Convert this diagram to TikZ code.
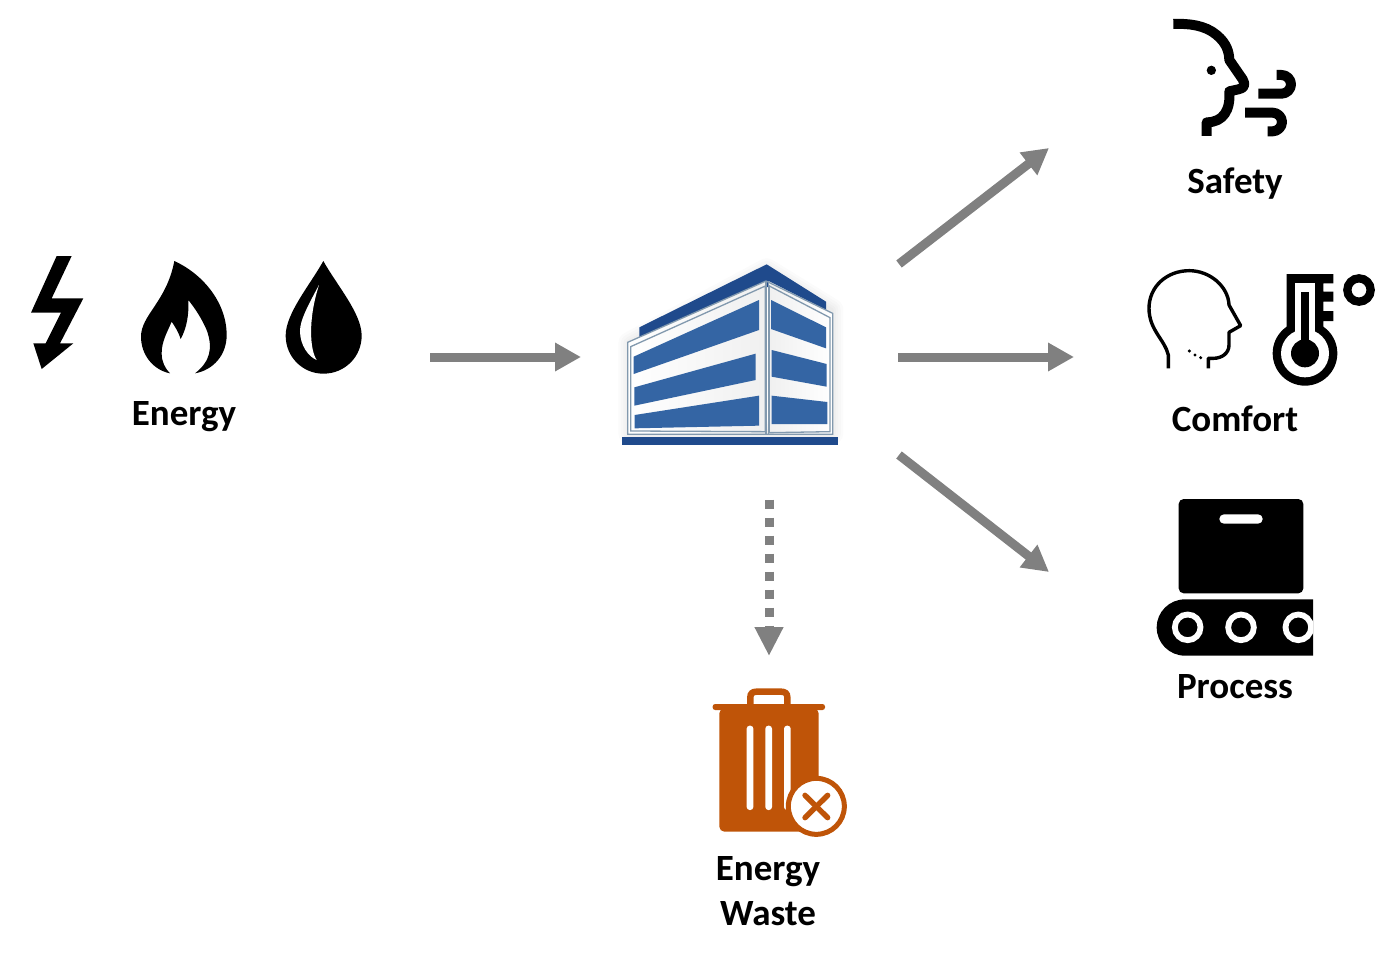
\documentclass[tikz,border=0pt]{standalone}
\usepackage{fontspec}
\setmainfont{Carlito}
\usetikzlibrary{arrows.meta}
\definecolor{arrowgray}{HTML}{808080}
\definecolor{winblue}{HTML}{3465A4}
\definecolor{roofblue}{HTML}{1F4A8C}
\definecolor{framegray}{HTML}{8299AE}
\definecolor{rust}{HTML}{BF5408}
\tikzset{
  flow/.style={draw=arrowgray,line width=9pt,-{Triangle[length=26pt,width=27pt]}},
  leak/.style={draw=arrowgray,line width=9pt,dash pattern=on 9pt off 9pt,-{Triangle[length=29pt,width=27pt]}},
  caption/.style={font=\bfseries\fontsize{37}{37}\selectfont,anchor=base,inner sep=0pt},
  zoomed/.style={x=0.33333pt,y=-0.33333pt},
  window/.style={fill=winblue,draw=none},
  frameline/.style={draw=framegray,line width=1.3pt,fill=none},
  ink/.style={line width=10pt,line cap=butt,line join=round,draw=black,fill=none},
  thin ink/.style={line width=3.4pt,line cap=butt,line join=round,draw=black,fill=none},
}
\begin{document}
\begin{tikzpicture}[x=1pt,y=-1pt]
\useasboundingbox (0,0) rectangle (1394,958);
% ---- connector ends
\coordinate (inS) at (430,357);    \coordinate (inE) at (581,357);
\coordinate (cfS) at (898,357);    \coordinate (cfE) at (1074,357);
\coordinate (sfS) at (899,264);    \coordinate (sfE) at (1049,148);
\coordinate (prS) at (899,455);    \coordinate (prE) at (1049,572);
\coordinate (wsS) at (769,499.5);    \coordinate (wsE) at (769,656);
\draw[flow] (inS) -- (inE);
\draw[flow] (cfS) -- (cfE);
\draw[flow] (sfS) -- (sfE);
\draw[flow] (prS) -- (prE);
\draw[leak] (wsS) -- (wsE);
% ---- energy icons
\begin{scope}[shift={(15,245)},zoomed]
\fill (125,33)--(170,33)--(110,160)--(205,160)--(135,295)--(175,295)--(80,372)--(55,295)--(92,295)--(138,203)--(48,203)--cycle;
\fill (478,48) .. controls (560,85) and (635,170) .. (635,270)
  .. controls (635,330) and (595,375) .. (540,385)
  .. controls (585,350) and (595,310) .. (575,255)
  .. controls (560,220) and (540,190) .. (520,165)
  .. controls (522,210) and (515,250) .. (497,282)
  .. controls (490,260) and (480,245) .. (470,230)
  .. controls (455,265) and (440,290) .. (440,325)
  .. controls (440,350) and (450,370) .. (465,385)
  .. controls (415,375) and (378,330) .. (378,275)
  .. controls (378,210) and (455,170) .. (478,48) -- cycle;
\fill (925,48) .. controls (965,120) and (1040,205) .. (1040,272)
  .. controls (1040,335) and (990,386) .. (925,386)
  .. controls (862,386) and (812,335) .. (812,272)
  .. controls (812,205) and (885,120) .. (925,48) -- cycle;
\fill[white] (912,120) .. controls (880,180) and (855,225) .. (855,258)
  .. controls (855,300) and (880,335) .. (905,345)
  .. controls (885,315) and (878,225) .. (912,120) -- cycle;
\end{scope}
\node[caption] (energy) at (184,425) {Energy};
% ---- building
\begin{scope}[shift={(610,250)},zoomed]
\foreach \w in {70,55,40,25,12}{
  \draw[black,opacity=0.016,line width=\w*0.33333pt,line join=round]
    (60,280)--(470,60)--(665,180)--(665,550)--(60,550)--cycle;
}
\fill[roofblue] (88,232)--(470,43)--(648,155)--(648,200)--(470,110)--(88,262)--cycle;
\shade[left color=white,right color=black!6] (53,277)--(468,93)--(468,555)--(53,553)--cycle;
\shade[left color=black!6,right color=white] (475,93)--(668,190)--(668,553)--(475,555)--cycle;
\draw[frameline] (53,277)--(468,93)--(668,190)--(668,553)--(53,553)--cycle;
\draw[frameline] (62,290)--(466,108)--(466,545)--(62,543)--cycle;
\draw[frameline] (478,108)--(660,203)--(660,545)--(478,548)--cycle;
\draw[frameline] (468,93)--(468,555);
\draw[frameline] (476,93)--(476,555);
\fill[window] (71,320)--(447,150)--(447,240)--(71,372)--cycle;
\fill[window] (73,412)--(437,311)--(437,390)--(73,467)--cycle;
\fill[window] (74,495)--(447,437)--(447,527)--(74,535)--cycle;
\fill[window] (483,150)--(648,232)--(648,295)--(483,237)--cycle;
\fill[window] (485,300)--(650,342)--(650,410)--(485,380)--cycle;
\fill[window] (485,437)--(652,456)--(652,522)--(485,522)--cycle;
\fill[roofblue] (35,562) rectangle (685,584);
\end{scope}
% ---- safety icon
\begin{scope}[shift={(1130,0)},zoomed]
\draw[ink] (130,72) .. controls (175,70) and (225,75) .. (260,105)
  .. controls (290,130) and (297,155) .. (298,180)
  -- (338,238) .. controls (348,255) and (342,265) .. (325,268) -- (298,274)
  .. controls (302,330) and (280,367) .. (230,367) -- (230,408);
\fill (244,211) circle[radius=14];
\draw[ink] (385,281) -- (455,281) .. controls (470,281) and (483,268) .. (483,253)
  .. controls (483,238) and (470,225) .. (455,225) -- (440,225);
\draw[ink] (345,338) -- (428,338) .. controls (443,338) and (456,351) .. (456,366)
  .. controls (456,381) and (443,394) .. (428,394) -- (413,394);
\end{scope}
\node[caption] (safety) at (1235,193.5) {Safety};
% ---- comfort icons
\begin{scope}[shift={(1130,255)},zoomed]
\draw[thin ink] (115,340) -- (115,300) .. controls (105,255) and (57,225) .. (57,160)
  .. controls (57,95) and (110,47) .. (178,47)
  .. controls (240,47) and (295,95) .. (297,150)
  -- (332,212) -- (297,232) -- (297,270)
  .. controls (297,295) and (275,310) .. (250,310) -- (235,310) -- (235,340);
\foreach \p in {(178,288),(195,300),(212,308)} \fill \p circle[radius=5];
\fill (470,57)--(610,57)--(610,85)--(580,85)--(580,110)--(610,110)--(610,140)--(580,140)--(580,168)--(610,168)--(610,198)--(580,198)--(580,240)--(470,240)--cycle;
\fill (525,295) circle[radius=97];
\fill[white] (495,85) rectangle (555,250);
\fill[white] (525,295) circle[radius=72];
\fill (512,112) rectangle (538,280);
\fill (525,295) circle[radius=42];
\draw[black,line width=8.3pt] (687,105) circle[radius=35];
\end{scope}
\node[caption] (comfort) at (1235,431.5) {Comfort};
% ---- process icon
\begin{scope}[shift={(1140,490)},zoomed]
\fill[rounded corners=5pt] (116,27) rectangle (490,310);
\fill[white,rounded corners=4.6pt] (238,73) rectangle (368,101);
\fill (519,328) -- (135,328) .. controls (88,328) and (50,366) .. (50,412)
  .. controls (50,459) and (88,497) .. (135,497) -- (519,497) -- cycle;
\begin{scope}
\clip (40,320) rectangle (519,505);
\foreach \c in {143,303,475}{
  \draw[white,line width=5.8pt] (\c,412) circle[radius=38.5];
}
\end{scope}
\end{scope}
\node[caption] (process) at (1235,698) {Process};
% ---- waste icon
\begin{scope}[shift={(700,680)},zoomed]
\draw[rust,line width=6.5pt] (151,75) -- (151,52) .. controls (151,40) and (158,35) .. (170,35)
  -- (243,35) .. controls (255,35) and (262,40) .. (262,52) -- (262,75);
\fill[rust,rounded corners=2.5pt] (38,72) rectangle (375,90);
\fill[rust,rounded corners=5pt] (58,85) rectangle (356,455);
\foreach \c in {150,206,262}{
  \fill[white,rounded corners=3pt] (\c-10,137) rectangle (\c+10,390);
}
\fill[white] (349,379) circle[radius=85];
\draw[rust,line width=5pt] (349,379) circle[radius=84];
\draw[rust,line width=5.4pt,line cap=round] (315,346) -- (383,413);
\draw[rust,line width=5.4pt,line cap=round] (383,346) -- (315,413);
\end{scope}
\node[caption] (waste1) at (768,880.5) {Energy};
\node[caption] (waste2) at (768,925) {Waste};
\end{tikzpicture}
\end{document}
